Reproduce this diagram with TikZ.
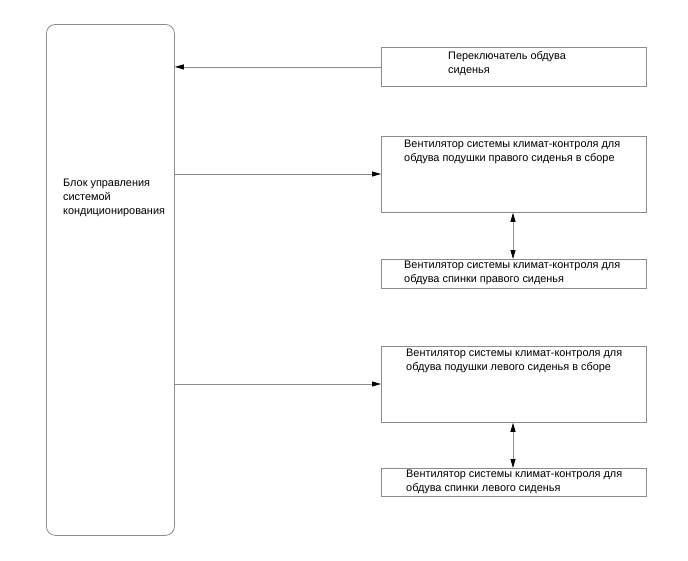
\documentclass[tikz,border=0pt]{standalone}
\usepackage{fontspec}
\setmainfont{Liberation Sans}
\usetikzlibrary{positioning}
\usetikzlibrary{arrows.meta}

\tikzset{
	box/.style={draw=gray!90, line width=0.8pt, inner sep=0pt, anchor=north west},
	txt/.style={anchor=north west, align=left, inner sep=0pt, font=\fontsize{10.9}{14}\selectfont},
	link/.style={draw=gray!90, line width=0.8pt, -{Triangle[length=9pt,width=5pt,fill=black,color=black]}},
	dlink/.style={draw=gray!90, line width=0.8pt, {Triangle[length=9pt,width=5pt,fill=black,color=black]}-{Triangle[length=9pt,width=5pt,fill=black,color=black]}}
}

\begin{document}
\begin{tikzpicture}[x=1pt,y=-1pt]
	\useasboundingbox (0,0) rectangle (688,560);
	
	% control unit
	\node[box, rounded corners=9pt, minimum width=128pt, minimum height=511pt] (ctrl) at (46,24) {};
	\node[txt] (ctrltxt) at (63,179) {Блок управления\\системой\\кондиционирования};
	
	% boxes on the right
	\node[box, minimum width=265pt, minimum height=39pt] (sw) at (381,47) {};
	\node[txt, below right=4pt and 67pt of sw.north west] (swtxt) {Переключатель обдува\\сиденья};
	
	\node[box, minimum width=265pt, minimum height=76pt] (rc) at (381,136) {};
	\node[txt, below right=4pt and 23pt of rc.north west] (rctxt) {Вентилятор системы климат-контроля для\\обдува подушки правого сиденья в сборе};
	
	\node[box, minimum width=265pt, minimum height=29pt] (rb) at (381,259) {};
	\node[txt, below right=2pt and 23pt of rb.north west] (rbtxt) {Вентилятор системы климат-контроля для\\обдува спинки правого сиденья};
	
	\node[box, minimum width=265pt, minimum height=76pt] (lc) at (381,346) {};
	\node[txt, below right=3pt and 25pt of lc.north west] (lctxt) {Вентилятор системы климат-контроля для\\обдува подушки левого сиденья в сборе};
	
	\node[box, minimum width=265pt, minimum height=28pt] (lb) at (381,468) {};
	\node[txt, below right=2pt and 25pt of lb.north west] (lbtxt) {Вентилятор системы климат-контроля для\\обдува спинки левого сиденья};
	
	% connections
	\draw[link] (sw.west) -- (sw.west -| ctrl.east);
	\draw[link] (ctrl.east |- 0,174) -- (rc.west |- 0,174);
	\draw[link] (ctrl.east |- 0,384) -- (lc.west |- 0,384);
	\draw[dlink] (rc.south -| 513,0) -- (rb.north -| 513,0);
	\draw[dlink] (lc.south -| 513,0) -- (lb.north -| 513,0);
\end{tikzpicture}
\end{document}
